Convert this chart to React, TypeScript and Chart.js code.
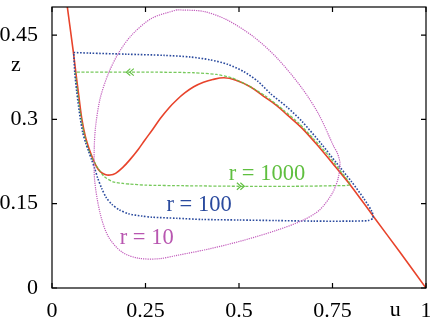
import React, { useEffect, useRef } from "react";
import { Chart, registerables } from "chart.js";

Chart.register(...registerables);

// Tick labels
const xTicks = [0, 0.25, 0.5, 0.75, 1];
const yTicks = [0, 0.15, 0.3, 0.45];

// Red nullcline
const redU = [0.038, 0.057, 0.064, 0.072, 0.08, 0.089, 0.098, 0.108, 0.119, 0.129, 0.142, 0.155, 0.17, 0.19, 0.208, 0.231, 0.248, 0.27, 0.29, 0.312, 0.334, 0.355, 0.379, 0.405, 0.43, 0.46, 0.49, 0.53, 0.566, 0.6, 0.629, 0.669, 0.715, 0.76, 0.798, 0.861, 0.93, 1.0];
const redZ = [0.515, 0.42, 0.382, 0.34, 0.3, 0.27, 0.25, 0.232, 0.216, 0.207, 0.202, 0.201, 0.204, 0.215, 0.228, 0.247, 0.263, 0.283, 0.302, 0.32, 0.335, 0.347, 0.358, 0.366, 0.371, 0.374, 0.37, 0.358, 0.341, 0.325, 0.308, 0.284, 0.25, 0.214, 0.183, 0.126, 0.064, 0.0];

// r = 1000 (green)
const greenU = [0.062, 0.068, 0.075, 0.084, 0.095, 0.108, 0.123, 0.14, 0.163, 0.19, 0.208, 0.25, 0.35, 0.5, 0.65, 0.75, 0.797, 0.775, 0.74, 0.7, 0.66, 0.62, 0.57, 0.52, 0.48, 0.44, 0.38, 0.28, 0.18, 0.062];
const greenZ = [0.384, 0.35, 0.315, 0.28, 0.252, 0.23, 0.213, 0.198, 0.189, 0.186, 0.185, 0.183, 0.182, 0.181, 0.181, 0.182, 0.184, 0.205, 0.235, 0.265, 0.293, 0.316, 0.342, 0.362, 0.374, 0.38, 0.383, 0.384, 0.384, 0.384];

// r = 100 (blue)
const blueU = [0.058, 0.1, 0.2, 0.3, 0.37, 0.423, 0.47, 0.513, 0.55, 0.584, 0.63, 0.669, 0.722, 0.76, 0.8, 0.835, 0.856, 0.858, 0.845, 0.8, 0.7, 0.6, 0.5, 0.4, 0.334, 0.267, 0.24, 0.205, 0.18, 0.16, 0.145, 0.133, 0.122, 0.114, 0.106, 0.098, 0.09, 0.082, 0.076, 0.071, 0.066, 0.061, 0.058];
const blueZ = [0.419, 0.418, 0.416, 0.414, 0.411, 0.406, 0.398, 0.385, 0.368, 0.346, 0.321, 0.296, 0.255, 0.223, 0.19, 0.158, 0.135, 0.124, 0.12, 0.119, 0.119, 0.12, 0.121, 0.122, 0.124, 0.126, 0.128, 0.132, 0.139, 0.149, 0.161, 0.177, 0.196, 0.213, 0.228, 0.243, 0.258, 0.277, 0.3, 0.323, 0.35, 0.382, 0.419];

// r = 10 (magenta)
const magU = [0.334, 0.267, 0.213, 0.178, 0.151, 0.129, 0.117, 0.113, 0.114, 0.129, 0.151, 0.187, 0.231, 0.285, 0.334, 0.423, 0.513, 0.602, 0.669, 0.714, 0.749, 0.765, 0.77, 0.763, 0.754, 0.714, 0.669, 0.602, 0.539, 0.468, 0.406, 0.334];
const magZ = [0.495, 0.48, 0.45, 0.418, 0.382, 0.338, 0.29, 0.25, 0.192, 0.132, 0.091, 0.064, 0.053, 0.052, 0.058, 0.07, 0.085, 0.103, 0.12, 0.138, 0.168, 0.195, 0.222, 0.24, 0.251, 0.308, 0.355, 0.409, 0.447, 0.477, 0.492, 0.495];

// Curve labels
const labelTexts = ["r = 1000", "r = 100", "r = 10"];
const labelU = [0.4725, 0.306, 0.181];
const labelZ = [0.192, 0.137, 0.078];
const labelColors = ["#5fbf3f", "#2a4a9e", "#b856b0"];

// Direction arrows on r = 1000
const arrowU = [0.208, 0.505];
const arrowZ = [0.384, 0.181];
const arrowDir = [-1, 1];

const zip = (u: number[], z: number[]) => u.map((v, i) => ({ x: v, y: z[i] }));

const FONT = "'Liberation Serif', 'Times New Roman', Times, serif";

const overlay = {
  id: "overlay",
  afterDraw(chart: any) {
    const { ctx, chartArea, scales } = chart;
    const { left, right, top, bottom } = chartArea;
    const xs = scales.x;
    const ys = scales.y;
    ctx.save();
    ctx.strokeStyle = "#000";
    ctx.lineWidth = 1.2;
    ctx.setLineDash([]);
    ctx.strokeRect(left, top, right - left, bottom - top);
    const tl = 5;
    ctx.beginPath();
    xTicks.forEach((v) => {
      const px = xs.getPixelForValue(v);
      ctx.moveTo(px, bottom);
      ctx.lineTo(px, bottom - tl);
      ctx.moveTo(px, top);
      ctx.lineTo(px, top + tl);
    });
    yTicks.forEach((v) => {
      const py = ys.getPixelForValue(v);
      ctx.moveTo(left, py);
      ctx.lineTo(left + tl, py);
      ctx.moveTo(right, py);
      ctx.lineTo(right - tl, py);
    });
    ctx.stroke();

    // axis labels
    ctx.fillStyle = "#000";
    ctx.font = `22px ${FONT}`;
    ctx.textAlign = "center";
    ctx.textBaseline = "middle";
    ctx.fillText("u", xs.getPixelForValue(0.918), bottom + 22);
    ctx.fillText("z", left - 36, ys.getPixelForValue(0.397));

    // curve labels
    ctx.textAlign = "left";
    ctx.textBaseline = "alphabetic";
    ctx.font = `22.5px ${FONT}`;
    labelTexts.forEach((t, i) => {
      ctx.fillStyle = labelColors[i];
      ctx.fillText(t, xs.getPixelForValue(labelU[i]), ys.getPixelForValue(labelZ[i]));
    });

    // arrows
    ctx.strokeStyle = "#5fbf3f";
    ctx.lineWidth = 1.1;
    arrowU.forEach((u, i) => {
      const px = xs.getPixelForValue(u);
      const py = ys.getPixelForValue(arrowZ[i]);
      const d = arrowDir[i];
      for (let k = 0; k < 2; k++) {
        const tip = px + d * k * 3.5;
        ctx.beginPath();
        ctx.moveTo(tip - d * 4, py - 3.5);
        ctx.lineTo(tip, py);
        ctx.lineTo(tip - d * 4, py + 3.5);
        ctx.stroke();
      }
    });
    ctx.restore();
  },
};

export default function App() {
  const ref = useRef<HTMLCanvasElement | null>(null);
  useEffect(() => {
    document.body.style.margin = "0";
    const canvas = ref.current;
    if (!canvas) return;
    let chart: any = null;
    let cancelled = false;
    const make = () => {
      if (cancelled || chart) return;
      const tickFont = { family: FONT, size: 22 };
      chart = new Chart(canvas, {
        type: "scatter",
        data: {
          datasets: [
            {
              data: zip(magU, magZ),
              showLine: true,
              borderColor: "#c25cbc",
              borderWidth: 1.2,
              borderDash: [1.2, 1],
              pointRadius: 0,
              tension: 0.3,
              order: 1,
            },
            {
              data: zip(blueU, blueZ),
              showLine: true,
              borderColor: "#2a4a9e",
              borderWidth: 1.6,
              borderDash: [1.6, 1.6],
              pointRadius: 0,
              tension: 0.25,
              order: 2,
            },
            {
              data: zip(greenU, greenZ),
              showLine: true,
              borderColor: "rgba(95,191,63,0.85)",
              borderWidth: 1.3,
              borderDash: [3, 1.6],
              pointRadius: 0,
              tension: 0.2,
              order: 3,
            },
            {
              data: zip(redU, redZ),
              showLine: true,
              borderColor: "#e8432b",
              borderWidth: 1.6,
              pointRadius: 0,
              tension: 0.35,
              order: 4,
            },
          ],
        },
        options: {
          animation: false,
          responsive: false,
          maintainAspectRatio: false,
          layout: { padding: { top: 7, right: 4, left: 0, bottom: 0 } },
          plugins: { legend: { display: false }, tooltip: { enabled: false } },
          scales: {
            x: {
              type: "linear",
              min: 0,
              max: 1,
              afterBuildTicks: (s: any) => {
                s.ticks = xTicks.map((v) => ({ value: v }));
              },
              afterFit: (s: any) => {
                s.height = 38;
                s.paddingLeft = 0;
                s.paddingRight = 0;
              },
              grid: { display: false, drawTicks: false },
              border: { display: false },
              ticks: {
                font: tickFont,
                color: "#000",
                padding: 10,
                maxRotation: 0,
                autoSkip: false,
                callback: (v: any) => String(v),
              },
            },
            y: {
              type: "linear",
              min: 0,
              max: 0.5,
              afterBuildTicks: (s: any) => {
                s.ticks = yTicks.map((v) => ({ value: v }));
              },
              afterFit: (s: any) => {
                s.width = 52;
                s.paddingTop = 0;
                s.paddingBottom = 0;
              },
              grid: { display: false, drawTicks: false },
              border: { display: false },
              ticks: {
                font: tickFont,
                color: "#000",
                padding: 14,
                autoSkip: false,
                callback: (v: any) => String(v),
              },
            },
          },
        },
        plugins: [overlay],
      } as any);
    };
    if ((document as any).fonts && (document as any).fonts.load) {
      (document as any).fonts.load('22px "Liberation Serif"').then(make, make);
    } else {
      make();
    }
    return () => {
      cancelled = true;
      if (chart) chart.destroy();
    };
  }, []);
  return (
    <div style={{ width: 430, height: 326 }}>
      <canvas ref={ref} width={430} height={326} style={{ display: "block" }} />
    </div>
  );
}
